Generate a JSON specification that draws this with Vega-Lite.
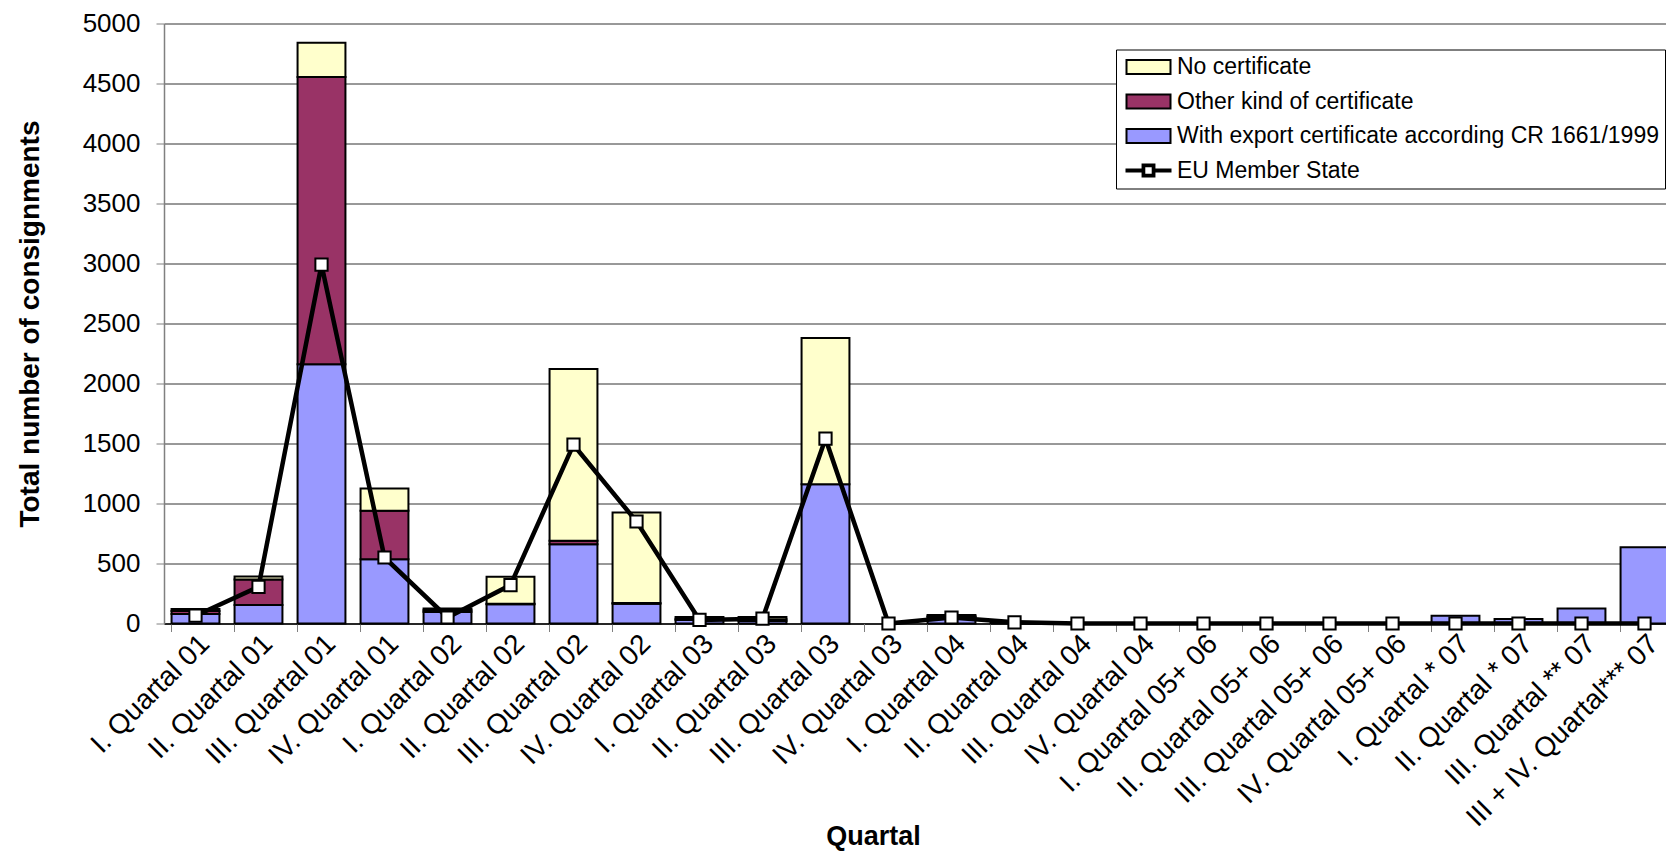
{
  "$schema": "https://vega.github.io/schema/vega-lite/v6.json",
  "width": 1502,
  "height": 600,
  "autosize": {"type": "none"},
  "padding": {"left": 164, "top": 23.5, "right": 0, "bottom": 230.5},
  "background": "white",
  "config": {"font": "Liberation Sans", "view": {"stroke": null}},
  "datasets": {
    "bars": [
      {"q": "I. Quartal 01", "type": "With export certificate according CR 1661/1999", "value": 80},
      {"q": "I. Quartal 01", "type": "Other kind of certificate", "value": 25},
      {"q": "I. Quartal 01", "type": "No certificate", "value": 15},
      {"q": "II. Quartal 01", "type": "With export certificate according CR 1661/1999", "value": 155},
      {"q": "II. Quartal 01", "type": "Other kind of certificate", "value": 212},
      {"q": "II. Quartal 01", "type": "No certificate", "value": 25},
      {"q": "III. Quartal 01", "type": "With export certificate according CR 1661/1999", "value": 2160},
      {"q": "III. Quartal 01", "type": "Other kind of certificate", "value": 2395},
      {"q": "III. Quartal 01", "type": "No certificate", "value": 285},
      {"q": "IV. Quartal 01", "type": "With export certificate according CR 1661/1999", "value": 535},
      {"q": "IV. Quartal 01", "type": "Other kind of certificate", "value": 405},
      {"q": "IV. Quartal 01", "type": "No certificate", "value": 185},
      {"q": "I. Quartal 02", "type": "With export certificate according CR 1661/1999", "value": 95},
      {"q": "I. Quartal 02", "type": "Other kind of certificate", "value": 15},
      {"q": "I. Quartal 02", "type": "No certificate", "value": 15},
      {"q": "II. Quartal 02", "type": "With export certificate according CR 1661/1999", "value": 160},
      {"q": "II. Quartal 02", "type": "Other kind of certificate", "value": 5},
      {"q": "II. Quartal 02", "type": "No certificate", "value": 225},
      {"q": "III. Quartal 02", "type": "With export certificate according CR 1661/1999", "value": 660},
      {"q": "III. Quartal 02", "type": "Other kind of certificate", "value": 30},
      {"q": "III. Quartal 02", "type": "No certificate", "value": 1430},
      {"q": "IV. Quartal 02", "type": "With export certificate according CR 1661/1999", "value": 165},
      {"q": "IV. Quartal 02", "type": "Other kind of certificate", "value": 5},
      {"q": "IV. Quartal 02", "type": "No certificate", "value": 755},
      {"q": "I. Quartal 03", "type": "With export certificate according CR 1661/1999", "value": 30},
      {"q": "I. Quartal 03", "type": "Other kind of certificate", "value": 10},
      {"q": "I. Quartal 03", "type": "No certificate", "value": 15},
      {"q": "II. Quartal 03", "type": "With export certificate according CR 1661/1999", "value": 20},
      {"q": "II. Quartal 03", "type": "Other kind of certificate", "value": 15},
      {"q": "II. Quartal 03", "type": "No certificate", "value": 20},
      {"q": "III. Quartal 03", "type": "With export certificate according CR 1661/1999", "value": 1160},
      {"q": "III. Quartal 03", "type": "No certificate", "value": 1220},
      {"q": "I. Quartal 04", "type": "With export certificate according CR 1661/1999", "value": 55},
      {"q": "I. Quartal 04", "type": "Other kind of certificate", "value": 5},
      {"q": "I. Quartal 04", "type": "No certificate", "value": 10},
      {"q": "II. Quartal 04", "type": "With export certificate according CR 1661/1999", "value": 8},
      {"q": "I. Quartal * 07", "type": "With export certificate according CR 1661/1999", "value": 65},
      {"q": "II. Quartal * 07", "type": "With export certificate according CR 1661/1999", "value": 38},
      {"q": "III. Quartal ** 07", "type": "With export certificate according CR 1661/1999", "value": 125},
      {"q": "III + IV. Quartal*** 07", "type": "With export certificate according CR 1661/1999", "value": 635}
    ],
    "eu": [
      {"q": "I. Quartal 01", "value": 65},
      {"q": "II. Quartal 01", "value": 305},
      {"q": "III. Quartal 01", "value": 2990},
      {"q": "IV. Quartal 01", "value": 550},
      {"q": "I. Quartal 02", "value": 50},
      {"q": "II. Quartal 02", "value": 320},
      {"q": "III. Quartal 02", "value": 1490},
      {"q": "IV. Quartal 02", "value": 850},
      {"q": "I. Quartal 03", "value": 30},
      {"q": "II. Quartal 03", "value": 40},
      {"q": "III. Quartal 03", "value": 1540},
      {"q": "IV. Quartal 03", "value": 0},
      {"q": "I. Quartal 04", "value": 50},
      {"q": "II. Quartal 04", "value": 10},
      {"q": "III. Quartal 04", "value": 0},
      {"q": "IV. Quartal 04", "value": 0},
      {"q": "I. Quartal 05+ 06", "value": 0},
      {"q": "II. Quartal 05+ 06", "value": 0},
      {"q": "III. Quartal 05+ 06", "value": 0},
      {"q": "IV. Quartal 05+ 06", "value": 0},
      {"q": "I. Quartal * 07", "value": 0},
      {"q": "II. Quartal * 07", "value": 0},
      {"q": "III. Quartal ** 07", "value": 0},
      {"q": "III + IV. Quartal*** 07", "value": 0}
    ]
  },
  "resolve": {"scale": {"x": "shared", "y": "shared"}, "axis": {"x": "independent"}},
  "layer": [
    {
      "data": {"name": "bars"},
      "mark": {"type": "bar", "strokeWidth": 2},
      "encoding": {
        "x": {
          "field": "q", "type": "nominal",
          "scale": {
            "type": "band",
            "domain": ["I. Quartal 01", "II. Quartal 01", "III. Quartal 01", "IV. Quartal 01", "I. Quartal 02", "II. Quartal 02", "III. Quartal 02", "IV. Quartal 02", "I. Quartal 03", "II. Quartal 03", "III. Quartal 03", "IV. Quartal 03", "I. Quartal 04", "II. Quartal 04", "III. Quartal 04", "IV. Quartal 04", "I. Quartal 05+ 06", "II. Quartal 05+ 06", "III. Quartal 05+ 06", "IV. Quartal 05+ 06", "I. Quartal * 07", "II. Quartal * 07", "III. Quartal ** 07", "III + IV. Quartal*** 07"],
            "range": [0, 1512],
            "paddingInner": 0.24,
            "paddingOuter": 0.12
          },
          "axis": {
            "orient": "bottom",
            "title": "Quartal",
            "titleFont": "Liberation Sans", "titleFontSize": 27, "titleFontWeight": "bold", "titleColor": "black",
            "titleX": 709, "titleY": 213, "titleAlign": "center", "titleBaseline": "middle",
            "labelAngle": -45, "labelFontSize": 28, "labelColor": "black", "labelFont": "Liberation Sans",
            "labelAlign": "right", "labelBaseline": "top",
            "labelPadding": 6, "labelLimit": 600, "labelOverlap": false, "labelBound": false,
            "ticks": false, "domain": true, "domainColor": "black", "domainWidth": 1.5, "grid": false
          }
        },
        "y": {
          "field": "value", "type": "quantitative", "stack": "zero",
          "scale": {"domain": [0, 5000], "nice": false},
          "axis": {
            "title": "Total number of consignments",
            "titleFont": "Liberation Sans", "titleFontSize": 28, "titleFontWeight": "bold", "titleColor": "black",
            "titleX": -134, "titleY": 300, "titleAngle": -90, "titleAlign": "center", "titleBaseline": "middle",
            "values": [0, 500, 1000, 1500, 2000, 2500, 3000, 3500, 4000, 4500, 5000],
            "format": "d",
            "labelFontSize": 26, "labelColor": "black", "labelFont": "Liberation Sans", "labelPadding": 16,
            "tickSize": 8, "tickColor": "#808080", "domainColor": "#808080", "domainWidth": 1.5,
            "grid": true, "gridColor": "#333333", "gridWidth": 1
          }
        },
        "color": {
          "field": "type", "type": "nominal",
          "scale": {
            "domain": ["No certificate", "Other kind of certificate", "With export certificate according CR 1661/1999", "EU Member State"],
            "range": ["#FFFFCC", "#993366", "#9999FF", "#000000"]
          },
          "legend": {
            "title": null, "orient": "none", "legendX": 952, "legendY": 26,
            "padding": 6, "strokeColor": "black", "fillColor": "white",
            "symbolSize": 196, "symbolStrokeWidth": 2, "symbolOpacity": 1, "labelOffset": 32, "rowPadding": 10.5,
            "labelFontSize": 23, "labelFont": "Liberation Sans", "labelColor": "black", "labelLimit": 800
          }
        },
        "stroke": {
          "field": "type", "type": "nominal",
          "scale": {
            "domain": ["No certificate", "Other kind of certificate", "With export certificate according CR 1661/1999", "EU Member State"],
            "range": ["#000000", "#000000", "#000000", "#000000"]
          },
          "legend": {
            "title": null, "orient": "none", "legendX": 952, "legendY": 26,
            "padding": 6, "strokeColor": "black", "fillColor": "white",
            "symbolSize": 196, "symbolStrokeWidth": 2, "symbolOpacity": 1, "labelOffset": 32, "rowPadding": 10.5,
            "labelFontSize": 23, "labelFont": "Liberation Sans", "labelColor": "black", "labelLimit": 800
          }
        },
        "order": {"field": "type", "sort": "descending"}
      }
    },
    {
      "data": {"name": "eu"},
      "mark": {"type": "line", "strokeWidth": 4.5, "color": "black"},
      "encoding": {
        "x": {
          "field": "q", "type": "nominal",
          "axis": {
            "orient": "bottom", "bandPosition": 0, "labels": false, "title": null,
            "domain": false, "ticks": true, "tickSize": 8, "tickColor": "#808080", "tickWidth": 1, "grid": false
          }
        },
        "y": {"field": "value", "type": "quantitative"}
      }
    },
    {
      "data": {"name": "eu"},
      "mark": {"type": "point", "shape": "square", "filled": true, "fill": "white", "stroke": "black", "strokeWidth": 2, "size": 150, "opacity": 1},
      "encoding": {
        "x": {"field": "q", "type": "nominal", "axis": null},
        "y": {"field": "value", "type": "quantitative"}
      }
    },
    {
      "data": {"values": []},
      "mark": {"type": "point", "filled": true},
      "encoding": {
        "shape": {
          "field": "type", "type": "nominal",
          "scale": {
            "domain": ["No certificate", "Other kind of certificate", "With export certificate according CR 1661/1999", "EU Member State"],
            "range": [
              "M-1,-1H5.286V1H-1Z",
              "M-1,-1H5.286V1H-1Z",
              "M-1,-1H5.286V1H-1Z",
              "M-1,-0.15H1.293V0.15H-1Z M2.993,-0.15H5.286V0.15H2.993Z M1.293,-0.85H2.993V0.85H1.293Z M1.543,-0.6V0.6H2.743V-0.6Z"
            ]
          },
          "legend": {
            "title": null, "orient": "none", "legendX": 952, "legendY": 26,
            "padding": 6, "strokeColor": "black", "fillColor": "white",
            "symbolSize": 196, "symbolStrokeWidth": 2, "symbolOpacity": 1, "labelOffset": 32, "rowPadding": 10.5,
            "labelFontSize": 23, "labelFont": "Liberation Sans", "labelColor": "black", "labelLimit": 800
          }
        }
      }
    }
  ]
}
